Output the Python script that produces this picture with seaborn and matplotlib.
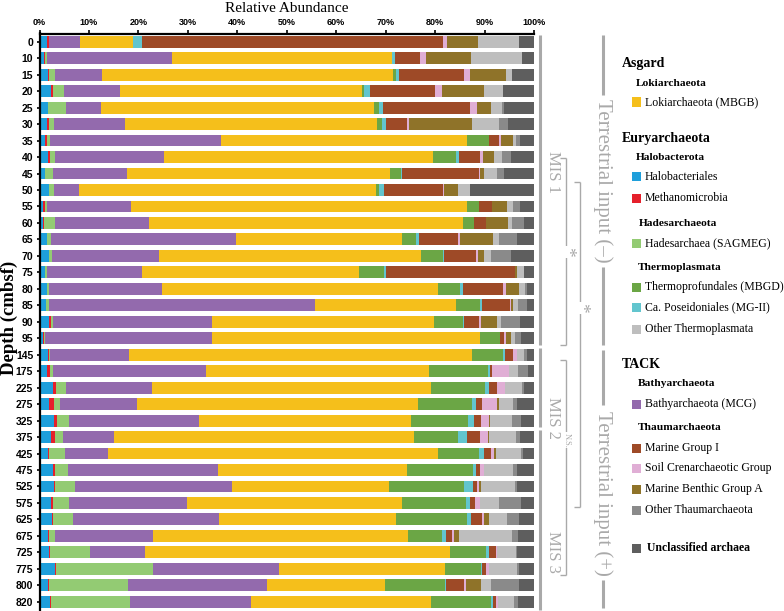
import numpy as np
import pandas as pd
import seaborn as sns
import matplotlib.pyplot as plt
from matplotlib.lines import Line2D
from matplotlib.patches import Rectangle

# ---------------- data ----------------
depths = ["0", "10", "15", "20", "25", "30", "35", "40", "45", "50", "55", "60", "65", "70", "75",
          "80", "85", "90", "95", "145", "175", "225", "275", "325", "375", "425", "475", "525",
          "575", "625", "675", "725", "775", "800", "820"]

halobacteriales = [1.6, 1.0, 1.8, 2.3, 1.8, 1.6, 1.1, 1.7, 1.2, 2.0, 0.7, 0.7, 1.5, 2.0, 1.2, 1.6, 1.4, 2.0, 0.8,
                   1.7, 1.5, 2.7, 2.0, 2.9, 2.4, 1.8, 2.8, 3.0, 2.4, 2.6, 1.7, 2.0, 3.2, 1.8, 2.1]
methanomicrobia = [0.4, 0.2, 0.2, 0.4, 0.0, 0.3, 0.4, 0.4, 0.0, 0.0, 0.4, 0.2, 0.0, 0.0, 0.0, 0.0, 0.0, 0.3, 0.2,
                   0.3, 0.6, 0.6, 0.9, 0.7, 0.8, 0.2, 0.3, 0.1, 0.3, 0.2, 0.2, 0.2, 0.1, 0.1, 0.2]
hadesarchaea = [0.0, 0.4, 1.2, 2.2, 3.5, 1.0, 0.6, 1.0, 1.5, 0.9, 0.4, 2.2, 0.8, 0.6, 0.4, 0.3, 0.5, 0.4, 0.2,
                0.2, 0.6, 2.1, 1.3, 2.3, 1.5, 3.2, 2.6, 4.1, 3.3, 3.9, 1.2, 8.1, 19.7, 15.9, 16.1]
bathyarchaeota = [6.2, 25.1, 9.4, 11.4, 7.1, 14.3, 34.7, 22.0, 15.0, 5.1, 17.1, 19.0, 37.4, 21.6, 19.2, 22.8, 53.9, 32.1, 33.7,
                  15.8, 31.0, 17.4, 15.5, 26.4, 10.4, 8.6, 30.3, 31.7, 23.8, 29.7, 19.9, 11.0, 25.4, 28.2, 24.4]
lokiarchaeota = [10.8, 44.6, 58.9, 48.9, 55.2, 51.1, 49.7, 54.5, 53.2, 60.0, 67.9, 63.6, 33.6, 52.9, 43.8, 55.9, 28.4, 45.0, 54.1,
                 69.4, 45.1, 56.4, 56.8, 42.9, 60.6, 66.8, 38.3, 31.8, 43.6, 35.6, 51.5, 61.8, 33.6, 23.9, 36.3]
thermoprofundales = [0.0, 0.0, 0.6, 0.4, 1.1, 1.0, 4.3, 4.6, 2.3, 0.7, 2.4, 2.1, 2.9, 4.4, 5.1, 4.4, 4.9, 5.8, 4.1,
                     6.3, 11.9, 10.9, 11.0, 11.4, 9.0, 8.3, 13.4, 15.1, 12.8, 14.5, 6.8, 7.2, 7.2, 12.1, 12.3]
poseidoniales = [1.7, 0.5, 0.6, 1.2, 0.8, 0.7, 0.2, 0.7, 0.2, 0.9, 0.0, 0.0, 0.5, 0.2, 0.3, 0.6, 0.4, 0.2, 0.0,
                 0.4, 0.5, 0.7, 0.7, 1.3, 1.7, 1.0, 0.6, 1.9, 0.9, 0.8, 1.0, 0.6, 0.3, 0.3, 0.3]
marine_group_i = [60.8, 5.1, 13.2, 13.2, 17.6, 4.4, 2.0, 4.2, 15.5, 12.0, 2.6, 2.5, 7.9, 6.6, 26.1, 8.1, 5.6, 3.0, 0.8,
                  1.7, 0.4, 1.7, 1.3, 1.4, 2.7, 1.4, 0.8, 0.8, 1.0, 2.2, 1.1, 1.4, 0.8, 3.6, 0.6]
soil_crenarchaeotic = [1.0, 1.2, 1.1, 1.3, 1.3, 0.4, 0.4, 0.5, 0.2, 0.3, 0.1, 0.0, 0.4, 0.4, 0.0, 0.6, 0.2, 0.4, 0.4,
                       0.7, 3.3, 1.6, 3.1, 1.7, 1.5, 0.7, 0.7, 0.4, 1.0, 0.3, 0.4, 0.2, 0.7, 0.3, 0.4]
marine_benthic_a = [6.2, 9.2, 7.3, 8.5, 3.0, 12.7, 2.4, 2.3, 0.7, 2.7, 2.9, 4.4, 6.7, 1.2, 0.4, 2.7, 0.5, 3.4, 1.1,
                    0.0, 0.0, 0.0, 0.3, 0.2, 0.3, 0.3, 0.0, 0.4, 0.0, 1.2, 1.1, 0.0, 0.0, 3.0, 0.0]
other_thermoplasmata = [8.3, 10.3, 1.3, 3.9, 2.1, 5.4, 0.6, 1.6, 2.7, 2.4, 1.2, 0.8, 1.2, 1.5, 1.4, 1.2, 1.0, 0.7, 0.8,
                        1.5, 1.9, 3.5, 2.9, 4.3, 5.5, 5.1, 5.9, 6.8, 3.8, 3.5, 10.6, 3.9, 5.5, 2.1, 3.2]
other_thaumarchaeota = [0.0, 0.0, 0.0, 0.0, 0.4, 1.8, 0.7, 1.8, 1.4, 0.0, 1.5, 2.4, 3.7, 3.9, 0.0, 0.4, 1.8, 3.9, 1.1,
                        0.6, 1.9, 0.3, 0.8, 1.9, 0.8, 0.3, 0.9, 0.4, 4.5, 2.5, 1.3, 0.2, 0.4, 5.6, 0.8]
unclassified = [3.0, 2.4, 4.4, 6.3, 6.1, 5.3, 2.9, 4.7, 6.1, 13.0, 2.8, 2.1, 3.4, 4.7, 2.1, 1.4, 1.4, 2.8, 2.7,
                1.4, 1.3, 2.1, 3.4, 2.6, 2.8, 2.3, 3.4, 3.5, 2.6, 3.0, 3.2, 3.4, 3.1, 3.1, 3.3]

x_ticks = [0, 10, 20, 30, 40, 50, 60, 70, 80, 90, 100]
x_tick_labels = ["0%", "10%", "20%", "30%", "40%", "50%", "60%", "70%", "80%", "90%", "100%"]

series = [
    ("Halobacteriales", halobacteriales, "#1E9FDB"),
    ("Methanomicrobia", methanomicrobia, "#E5202B"),
    ("Hadesarchaea (SAGMEG)", hadesarchaea, "#93CB73"),
    ("Bathyarchaeota (MCG)", bathyarchaeota, "#936AAD"),
    ("Lokiarchaeota (MBGB)", lokiarchaeota, "#F5BF1B"),
    ("Thermoprofundales (MBGD)", thermoprofundales, "#6BA645"),
    ("Ca. Poseidoniales (MG-II)", poseidoniales, "#62C5CE"),
    ("Marine Group I", marine_group_i, "#9E4A27"),
    ("Soil Crenarchaeotic Group", soil_crenarchaeotic, "#E0AED5"),
    ("Marine Benthic Group A", marine_benthic_a, "#8F7329"),
    ("Other Thermoplasmata", other_thermoplasmata, "#BEBEBE"),
    ("Other Thaumarchaeota", other_thaumarchaeota, "#8A8A8A"),
    ("Unclassified archaea", unclassified, "#5E5E5E"),
]
color_of = {name: c for name, _, c in series}

# ---------------- figure ----------------
W, H = 784, 611
fig = plt.figure(figsize=(W / 100, H / 100), dpi=100)
ax = fig.add_axes([39.5 / W, 1 - 610 / H, (534 - 39.5) / W, (610 - 33.5) / H])

# stacked horizontal bars: draw cumulative totals from the right-most layer inward
df = pd.DataFrame({name: vals for name, vals, _ in series}, index=depths)
cum = df.cumsum(axis=1)
for name, _, col in reversed(series):
    d = pd.DataFrame({"depth": depths, "value": cum[name].values})
    sns.barplot(data=d, x="value", y="depth", orient="h", order=depths, color=col,
                width=0.72, saturation=1, ax=ax, edgecolor="none", linewidth=0, errorbar=None)

ax.set_xlim(0, 100)
ax.set_ylim(len(depths) - 0.5, -0.5)
ax.set_xlabel("")
ax.set_ylabel("")
ax.xaxis.set_ticks_position("top")
ax.xaxis.set_label_position("top")
ax.set_xticks(x_ticks)
ax.set_xticklabels(x_tick_labels, fontsize=6.5, fontweight="bold",
                   family=["Liberation Sans Narrow", "Liberation Sans"])
ax.tick_params(axis="x", direction="out", length=3, width=1.2, pad=2, color="black")
ax.tick_params(axis="y", direction="out", length=2.5, width=1.2, pad=2, color="black")
for lab in ax.get_yticklabels():
    lab.set_fontsize(7.5)
    lab.set_fontweight("bold")
    lab.set_family(["Liberation Sans Narrow", "Liberation Sans"])
for s in ["right", "bottom"]:
    ax.spines[s].set_visible(False)
for s in ["top", "left"]:
    ax.spines[s].set_linewidth(1.6)
    ax.spines[s].set_color("black")
ax.set_facecolor("white")

serif = "Liberation Serif"
fig.text(287 / W, 1 - 9 / H, "Relative Abundance", ha="center", va="center",
         fontsize=11, family=serif)
fig.text(9 / W, 1 - 318 / H, "Depth (cmbsf)", ha="center", va="center",
         fontsize=13.5, family=serif, fontweight="bold", rotation=90)

grey = "#A9A9A9"


def fx(x):
    return x / W


def fy(y):
    return 1 - y / H


def vline(x, y0, y1, lw=2.2):
    fig.add_artist(Line2D([fx(x), fx(x)], [fy(y0), fy(y1)], color=grey, lw=lw,
                          solid_capstyle="butt"))


def hline(x0, x1, y, lw=1.0):
    fig.add_artist(Line2D([fx(x0), fx(x1)], [fy(y), fy(y)], color=grey, lw=lw,
                          solid_capstyle="butt"))


# MIS bars
vline(540, 35, 345)
vline(540, 348, 427)
vline(540, 430, 610)
for lab, yc in [("MIS 1", 172), ("MIS 2", 418), ("MIS 3", 552)]:
    fig.text(fx(553), fy(yc), lab, rotation=270, ha="center", va="center",
             fontsize=12, family=serif, color=grey)

# significance brackets
def bracket(x, y0, y1, label, ylab, fs=14):
    vline(x, y0, y1, lw=1.0)
    hline(x - 6, x, y0)
    hline(x - 6, x, y1)
    fig.text(fx(x + 1), fy(ylab), label, rotation=270, ha="center", va="center",
             fontsize=fs, family=serif, color=grey,
             bbox=dict(facecolor="white", edgecolor="none", pad=0.5))

bracket(566, 158, 345, "*", 252)
bracket(566, 360, 575, "N.S.", 440, fs=6)
bracket(580, 182, 507, "*", 308)

# terrestrial input
vline(603, 35, 95)
vline(603, 267, 345)
vline(603, 350, 405)
vline(603, 580, 608)
fig.text(fx(603), fy(181), "Terrestrial input (\u2013)", rotation=270, ha="center", va="center",
         fontsize=15, family=serif, color=grey)
fig.text(fx(603), fy(493), "Terrestrial input (+)", rotation=270, ha="center", va="center",
         fontsize=15, family=serif, color=grey)

# legend
def head(x, y, txt, fs):
    fig.text(fx(x), fy(y), txt, ha="left", va="center", fontsize=fs, family=serif,
             fontweight="bold")


def item(y, name, bold=False, x_sq=631.5, x_txt=645):
    fig.add_artist(Rectangle((fx(x_sq), fy(y + 4.5)), 9 / W, 9 / H, facecolor=color_of[name],
                             edgecolor="none", transform=fig.transFigure))
    fig.text(fx(x_txt), fy(y), name, ha="left", va="center", fontsize=8.5, family=serif,
             fontweight="bold" if bold else "normal")


head(622, 64, "Asgard", 10)
head(636, 84, "Lokiarchaeota", 8.2)
item(102, "Lokiarchaeota (MBGB)")
head(622, 138, "Euryarchaeota", 10)
head(636, 157, "Halobacterota", 8.2)
item(177, "Halobacteriales")
item(198, "Methanomicrobia")
head(639, 223, "Hadesarchaeota", 8.2)
item(243, "Hadesarchaea (SAGMEG)")
head(637.5, 268, "Thermoplasmata", 8.2)
item(287, "Thermoprofundales (MBGD)")
item(307, "Ca. Poseidoniales (MG-II)")
item(329, "Other Thermoplasmata")
head(622, 364, "TACK", 10)
head(638, 384, "Bathyarchaeota", 8.2)
item(404, "Bathyarchaeota (MCG)")
head(637.5, 428, "Thaumarchaeota", 8.2)
item(448, "Marine Group I")
item(468, "Soil Crenarchaeotic Group")
item(489, "Marine Benthic Group A")
item(510, "Other Thaumarchaeota")
item(548, "Unclassified archaea", bold=True, x_txt=647)

fig.savefig("out.png", dpi=100, facecolor="white")
